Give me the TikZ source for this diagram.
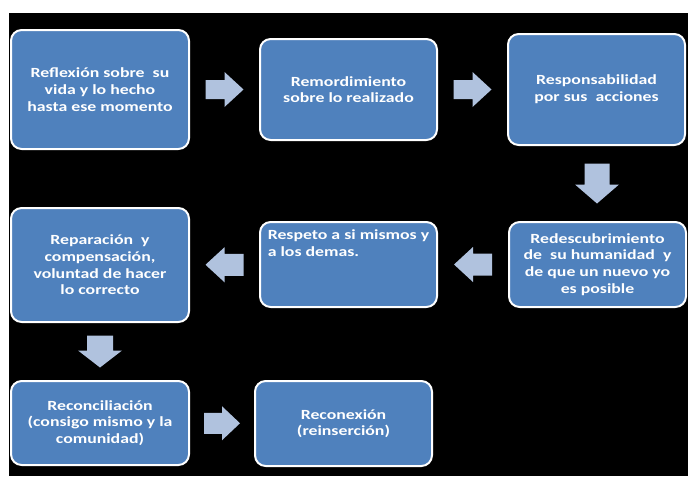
\documentclass[tikz,border=0pt]{standalone}
\usepackage{fontspec}
\setmainfont{Carlito}[FakeStretch=1.27]
\usetikzlibrary{calc}
\definecolor{boxblue}{HTML}{4F81BD}
\definecolor{arrowblue}{HTML}{B0C2DE}
\tikzset{
  etapa/.style={draw=white,line width=1.5pt,fill=boxblue,rounded corners=8pt,align=center,text=white,inner sep=3pt,font=\fontsize{10.5}{12.5}\selectfont\bfseries},
  pics/flecha/.style n args={4}{code={
      \fill[arrowblue] ({-#1/2},{-#3}) -- ({#1/2-#2},{-#3}) -- ({#1/2-#2},{-#4}) -- ({#1/2},0)
        -- ({#1/2-#2},{#4}) -- ({#1/2-#2},{#3}) -- ({-#1/2},{#3}) -- cycle;}},
}

\begin{document}
\begin{tikzpicture}[x=.75pt,y=-.75pt]
  \useasboundingbox (0,0) rectangle (688,476);
  \fill[white] (0,0) rectangle (688,476);
  \fill[black] (9,13) rectangle (688,476);
  % first row
  \node[etapa,minimum width=133.5pt,minimum height=89.25pt] (b1) at (100,89.5) {Reflexión sobre\ \ su\\vida y lo hecho\\hasta ese momento};
  \node[etapa,minimum width=132.75pt,minimum height=75.75pt] (b2) at (348.5,89.5) {Remordimiento\\sobre lo realizado};
  \node[etapa,minimum width=132.75pt,minimum height=83.25pt] (b3) at (596.5,89.5) {Responsabilidad\\por sus\ \ acciones};
  % second row
  \node[etapa,minimum width=133.5pt,minimum height=85.5pt] (b4) at (100,265) {Reparación\ \ y\\compensación,\\voluntad de hacer\\lo correcto};
  \node[etapa,minimum width=132.75pt,minimum height=63.75pt] (b5) at (348.5,264.5)
    {\vbox to 51.75pt{\hbox{Respeto a si mismos y}\hbox{a los demas.}\vfil}};
  \node[etapa,minimum width=132.75pt,minimum height=63.75pt] (b6) at (597.5,264.5) {Redescubrimiento\\de\ \ su humanidad\ \ y\\de que un nuevo yo\\es posible};
  % third row
  \node[etapa,minimum width=133.5pt,minimum height=63pt] (b7) at (100,423) {Reconciliación\\(consigo mismo y la\\comunidad)};
  \node[etapa,minimum width=132.75pt,minimum height=63.75pt] (b8) at (343.5,423.5) {Reconexión\\(reinserción)};
  % block arrows
  \pic at ($(b1.east)!.5!(b2.west)$) {flecha={38}{19}{9.5}{17.5}};
  \pic at ($(b2.east)!.5!(b3.west)$) {flecha={38}{19}{9.5}{17.5}};
  \pic[rotate=-90] at ($(b3.south)!.5!(b6.north)$) {flecha={40}{19}{12.5}{22}};
  \pic[rotate=180] at ($(b6.west)!.5!(b5.east)$) {flecha={38}{19}{11}{17.5}};
  \pic[rotate=180] at ($(b5.west)!.5!(b4.east)$) {flecha={38}{19}{11}{17.5}};
  \pic[rotate=-90] at ($(b4.south)!.5!(b7.north)$) {flecha={32}{17}{13}{22}};
  \pic at ($(b7.east)!.5!(b8.west)$) {flecha={36}{18}{10.5}{17}};
\end{tikzpicture}
\end{document}
